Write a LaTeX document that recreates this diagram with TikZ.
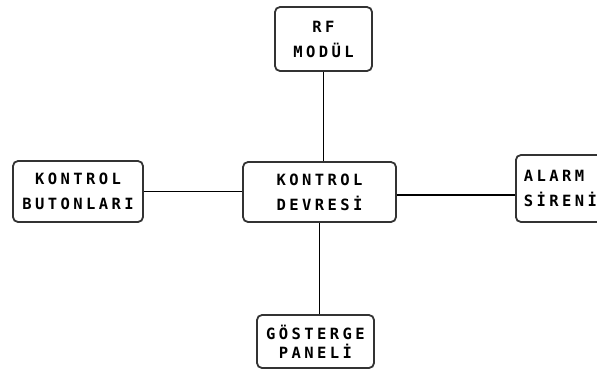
\documentclass[tikz,border=0pt]{standalone}
\usepackage{fontspec}
\newfontfamily\pixfont[LetterSpace=22]{DejaVu Sans Mono}
\begin{document}
\begin{tikzpicture}[x=1pt,y=-1pt,
  blockbox/.style={draw=black!80, line width=1.8pt, rounded corners=5pt, fill=white,
    inner sep=0pt, align=center, font=\pixfont\bfseries\fontsize{15.5}{25}\selectfont},
  link/.style={draw=black, line width=1.6pt}]
\useasboundingbox[fill=white] (0,0) rectangle (597,370);
\node[blockbox, minimum width=97pt, minimum height=64pt] (rf) at (323.5,39) {RF\\MODÜL};
\node[blockbox, minimum width=153pt, minimum height=60pt] (dev) at (319.5,192) {KONTROL\\DEVRESİ};
\node[blockbox, minimum width=130pt, minimum height=61pt] (but) at (78,191.5) {KONTROL\\BUTONLARI};
\node[blockbox, minimum height=67pt, anchor=west, text width=74pt, align=left, inner xsep=8pt] (alarm) at (515,188.5) {ALARM\\SİRENİ};
\node[blockbox, minimum width=117pt, minimum height=53pt, font=\pixfont\bfseries\fontsize{15.5}{19}\selectfont] (gos) at (315.5,341.5) {GÖSTERGE\\PANELİ};
\coordinate (devr) at ([yshift=-3pt]dev.east);
\draw[link] (rf.south) -- (rf.south |- dev.north);
\draw[link] (but.east) -- (but.east -| dev.west);
\draw[link] (devr) -- (devr -| alarm.west);
\draw[link] (dev.south) -- (dev.south |- gos.north);
\end{tikzpicture}
\end{document}
